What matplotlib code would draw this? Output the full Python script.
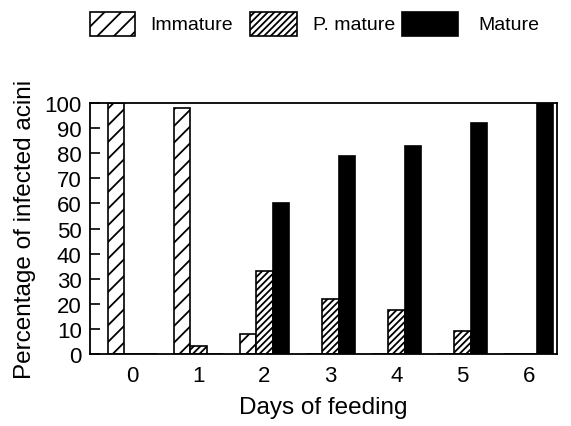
import numpy as np
import matplotlib
matplotlib.use('Agg')
import matplotlib.pyplot as plt
from matplotlib.patches import Rectangle

plt.rcParams['font.family'] = ['Liberation Sans', 'DejaVu Sans']
plt.rcParams['hatch.linewidth'] = 1.3

days = [0, 1, 2, 3, 4, 5, 6]
immature = [100, 98, 8, 0, 0, 0, 0]
p_mature = [0, 3, 33, 22, 17.5, 9, 0]
mature = [0, 0, 60, 79, 83, 92, 100]
yticks = list(range(0, 101, 10))
series_names = ['Immature', 'P. mature', 'Mature']

W, H = 571, 427
fig = plt.figure(figsize=(W/100, H/100), dpi=100)
ax = fig.add_axes([90/W, 1 - 355/H, 467/W, 251/H])

x = np.array(days, dtype=float)
w = 0.25
styles = [dict(color='white', hatch='//'),
          dict(color='white', hatch='/////'),
          dict(color='black', hatch=None)]
for i, (vals, st) in enumerate(zip([immature, p_mature, mature], styles)):
    ax.bar(x + i*w, vals, w, edgecolor='black', linewidth=1.2, **st)

ax.set_xlim(-0.394, 6.68)
ax.set_ylim(0, 100)
ax.set_yticks(yticks)
ax.set_xticks(x + w)
ax.set_xticklabels([str(d) for d in days])
ax.tick_params(axis='y', direction='in', length=7, width=1.2, labelsize=16, pad=6)
ax.tick_params(axis='x', length=0, labelsize=16, pad=8)
for s in ax.spines.values():
    s.set_linewidth(1.3)

ax.set_xlabel('Days of feeding', fontsize=17.5, labelpad=7)
ax.set_ylabel('Percentage of infected acini', fontsize=17.5, labelpad=6)

# legend drawn by hand in pixel positions
boxes = [(90, 135), (250, 297), (402, 458)]
text_x = [150, 313, 478]
for (x0, x1), tx, name, st in zip(boxes, text_x, series_names, styles):
    r = Rectangle((x0/W, 1 - 37/H), (x1 - x0)/W, 24/H, transform=fig.transFigure,
                  facecolor=st['color'], edgecolor='black', hatch=st['hatch'], linewidth=1.2)
    fig.patches.append(r)
    fig.text(tx/W, 1 - 26/H, name, fontsize=14, va='center', ha='left')

plt.savefig('out.png', dpi=100)
